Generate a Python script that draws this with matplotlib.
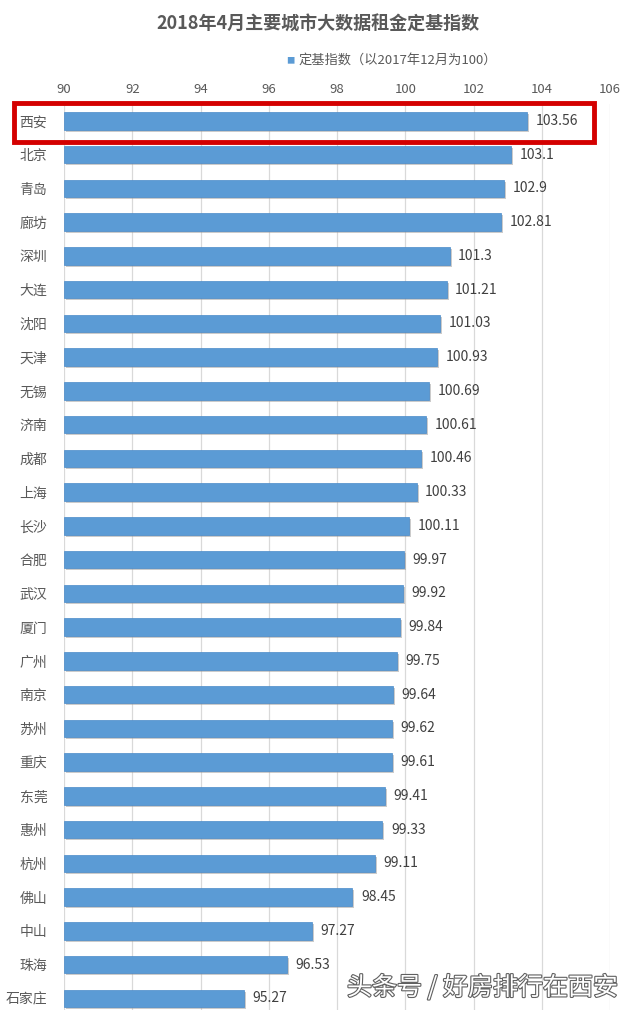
import matplotlib
matplotlib.use('Agg')
import matplotlib.pyplot as plt
import matplotlib.patheffects as pe
from matplotlib.patches import Rectangle

plt.rcParams['font.family'] = ['Noto Sans CJK SC', 'DejaVu Sans']

cities = ['西安', '北京', '青岛', '廊坊', '深圳', '大连', '沈阳', '天津', '无锡', '济南',
          '成都', '上海', '长沙', '合肥', '武汉', '厦门', '广州', '南京', '苏州', '重庆',
          '东莞', '惠州', '杭州', '佛山', '中山', '珠海', '石家庄']
values = [103.56, 103.1, 102.9, 102.81, 101.3, 101.21, 101.03, 100.93, 100.69, 100.61,
          100.46, 100.33, 100.11, 99.97, 99.92, 99.84, 99.75, 99.64, 99.62, 99.61,
          99.41, 99.33, 99.11, 98.45, 97.27, 96.53, 95.27]
xticks = [90, 92, 94, 96, 98, 100, 102, 104, 106]

fig = plt.figure(figsize=(6.35, 10.1), dpi=100)
ax = fig.add_axes([64/635, -12/1010, 546/635, 918/1010])

base = 90
pos = list(range(len(cities)))
bars = ax.barh(pos, [v - base for v in values], left=base, height=0.52,
               color='#5b9bd5', edgecolor='#4a8ac8', linewidth=0.5, zorder=3)
for b in bars:
    b.set_path_effects([pe.SimplePatchShadow(offset=(1.5, -1.5), shadow_rgbFace='#999999', alpha=0.5),
                        pe.Normal()])

for p, v in zip(pos, values):
    ax.text(v + 0.25, p, f'{v:g}', va='center', ha='left', fontsize=10, color='#404040')

ax.set_xlim(90, 106)
ax.set_ylim(len(cities) - 0.5 + 0.2, -0.5)
ax.set_xticks(xticks)
ax.xaxis.tick_top()
ax.tick_params(axis='x', length=0, labelsize=9.5, labelcolor='#595959', pad=6)
ax.set_yticks(pos)
ax.set_yticklabels(cities)
ax.tick_params(axis='y', length=0, labelsize=10, labelcolor='#595959', pad=12)
ax.grid(axis='x', color='#d9d9d9', linewidth=0.9, zorder=0)
for s in ax.spines.values():
    s.set_visible(False)

fig.text(318/635, 1 - 24/1010, '2018年4月主要城市大数据租金定基指数', ha='center', va='center',
         fontsize=13, fontweight='bold', color='#595959')
fig.text(290/635, 1 - 61/1010, '■', ha='center', va='center', fontsize=6, color='#5b9bd5')
fig.text(298/635, 1 - 60/1010, '定基指数（以2017年12月为100）', ha='left', va='center',
         fontsize=9.5, color='#595959')

# red highlight box around first row
fig.patches.append(Rectangle((14/635, 1 - 142/1010), 580/635, 39/1010, transform=fig.transFigure,
                             fill=False, edgecolor='#d40000', linewidth=3.5, zorder=10))

fig.text(618/635, 1 - 988/1010, '头条号 / 好房排行在西安', ha='right', va='center', fontsize=18,
         color='white', zorder=11,
         path_effects=[pe.withStroke(linewidth=1.6, foreground='#606060')])

fig.savefig('out.png', dpi=100)
